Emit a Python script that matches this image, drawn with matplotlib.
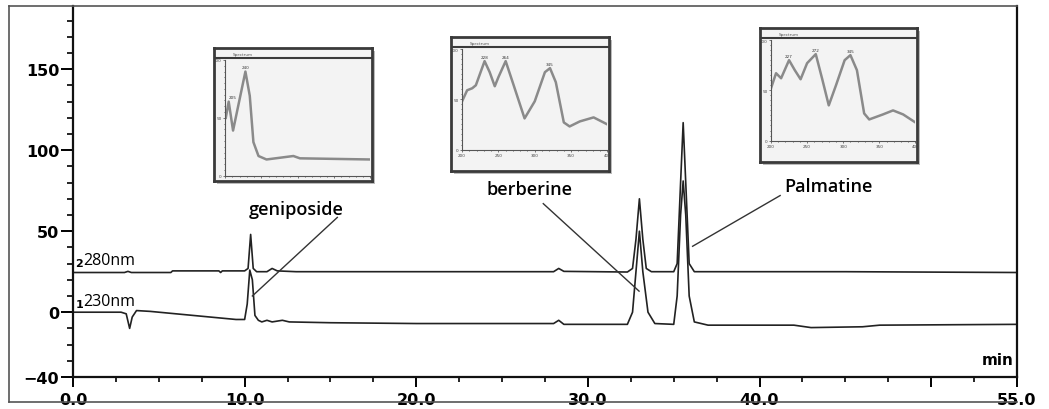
import matplotlib
matplotlib.use('Agg')
import matplotlib.pyplot as plt
from matplotlib.lines import Line2D
from matplotlib.ticker import MultipleLocator, FixedLocator

# chromatogram traces (time in min, signal)
t_280 = [0, 3.0, 3.2, 3.4, 5.7, 5.8, 8.5, 8.6, 8.7, 10.0, 10.2, 10.35, 10.5, 10.7,
         11.3, 11.6, 11.9, 13, 20, 28.0, 28.3, 28.6, 32.3, 32.6, 32.8, 33.0, 33.2,
         33.4, 33.7, 35.0, 35.2, 35.4, 35.55, 35.7, 35.9, 36.2, 45, 55]
v_280 = [24.5, 24.5, 25.2, 24.5, 24.5, 25.5, 25.5, 24.5, 25.5, 25.5, 27, 48, 27, 25,
         25, 27, 25.5, 25, 25, 25, 27, 25.2, 24.8, 27, 45, 70, 45,
         27, 25, 25, 30, 80, 117, 80, 30, 25, 25, 24.5]

t_230 = [0, 2.8, 3.1, 3.3, 3.45, 3.7, 4.5, 6, 8, 9.5, 10.0, 10.15, 10.3, 10.45, 10.6,
         10.8, 11.0, 11.3, 11.6, 12.2, 12.6, 15, 20, 25, 28.0, 28.3, 28.6, 31, 32.3,
         32.6, 32.8, 33.0, 33.2, 33.5, 33.9, 35.0, 35.2, 35.4, 35.55, 35.7, 35.9, 36.2,
         37, 42, 43, 46, 47, 55]
v_230 = [0, 0, -1, -10, -3, 1, 0.5, -1, -3, -4.5, -4.5, 5, 26, 20, -2,
         -5, -6, -5, -6, -5, -6, -6.5, -7, -7, -7, -5, -7.5, -7.5, -7.5,
         0, 25, 50, 25, 0, -7, -7.5, 10, 60, 81, 60, 10, -6,
         -8, -8, -9.5, -9, -8, -7.5]

# UV spectra in the insets (wavelength nm, relative absorbance)
wl_genip = [201, 205, 211, 228, 234, 239, 246, 257, 294, 303, 400]
ab_genip = [0.50, 0.64, 0.39, 0.90, 0.69, 0.29, 0.17, 0.14, 0.17, 0.15, 0.14]

wl_berb = [200, 207, 214, 219, 231, 238, 245, 250, 260, 271, 286, 300, 314, 321,
           329, 340, 348, 362, 381, 400]
ab_berb = [0.48, 0.59, 0.61, 0.64, 0.88, 0.77, 0.63, 0.72, 0.88, 0.64, 0.31, 0.48,
           0.77, 0.81, 0.67, 0.27, 0.23, 0.28, 0.32, 0.25]

wl_palm = [200, 207, 214, 225, 233, 241, 250, 262, 271, 280, 290, 302, 310, 319,
           329, 336, 355, 369, 383, 400]
ab_palm = [0.52, 0.67, 0.62, 0.80, 0.70, 0.61, 0.77, 0.86, 0.61, 0.35, 0.55, 0.80,
           0.85, 0.70, 0.27, 0.21, 0.26, 0.30, 0.26, 0.18]

x_major = [0, 10, 20, 30, 40, 50, 55]
x_labels = ['0.0', '10.0', '20.0', '30.0', '40.0', '', '55.0']
y_major = [-40, 0, 50, 100, 150]

fig = plt.figure(figsize=(10.49, 4.10), dpi=100)
W, H = 1049, 410


def fx(px):
    return px / W


def fy(py):
    return 1 - py / H


# outer frame of the picture
for xs, ys in [([9, 9], [7, 403]), ([9, 1017], [7, 7]), ([9, 1017], [403, 403])]:
    fig.add_artist(Line2D([fx(x) for x in xs], [fy(y) for y in ys], color='#555555', lw=1.2))

ax = fig.add_axes([fx(73), fy(378), fx(1017) - fx(73), fy(7) - fy(378)])
ax.plot(t_280, v_280, color='#222222', lw=1.2)
ax.plot(t_230, v_230, color='#222222', lw=1.2)
ax.set_xlim(0, 55)
ax.set_ylim(-40, 189)
ax.spines['top'].set_visible(False)
for s in ['left', 'bottom', 'right']:
    ax.spines[s].set_linewidth(1.6)
    ax.spines[s].set_color('#111111')
ax.xaxis.set_major_locator(FixedLocator(x_major))
ax.set_xticklabels(x_labels)
ax.xaxis.set_minor_locator(MultipleLocator(2.5))
ax.yaxis.set_major_locator(FixedLocator(y_major))
ax.yaxis.set_minor_locator(MultipleLocator(10))
ax.tick_params(axis='x', which='major', length=7, width=1.4, pad=4)
ax.tick_params(axis='x', which='minor', length=3.5, width=1.2)
ax.tick_params(axis='y', which='major', length=9, width=1.4, pad=1)
ax.tick_params(axis='y', which='minor', length=4, width=1.2)
for lab in ax.get_xticklabels() + ax.get_yticklabels():
    lab.set_fontweight('heavy')
    lab.set_fontsize(11.5)
    lab.set_family('DejaVu Sans')

ax.text(54.8, -34, 'min', ha='right', va='bottom', fontsize=11, fontweight='heavy')
ax.text(0.15, 27, '2', fontsize=8, fontweight='bold', va='bottom')
ax.text(0.6, 27, '280nm', fontsize=11.5, va='bottom', family='Open Sans')
ax.text(0.15, 2, '1', fontsize=8, fontweight='bold', va='bottom')
ax.text(0.6, 2, '230nm', fontsize=11.5, va='bottom', family='Open Sans')

# peak names with leader lines
lab_kw = dict(fontsize=13, family='Open Sans', fontweight='semibold', ha='center', va='center')
ax.text(13.0, 64, 'geniposide', **lab_kw)
ax.plot([15.4, 10.45], [58.5, 10], color='#333333', lw=1)
ax.text(26.6, 76, 'berberine', **lab_kw)
ax.plot([27.4, 32.98], [67, 13], color='#333333', lw=1)
ax.text(44.0, 78, 'Palmatine', **lab_kw)
ax.plot([41.2, 36.1], [72, 40.7], color='#333333', lw=1)


def inset(box, wl, ab, bottom_frac, peaks):
    x0, y0, x1, y1 = box
    # shadow
    sh = fig.add_axes([fx(x0 + 3), fy(y1 + 3), fx(x1 - x0), fy(y0) - fy(y1)])
    sh.set_facecolor('#bbbbbb')
    sh.set_xticks([])
    sh.set_yticks([])
    for s in sh.spines.values():
        s.set_visible(False)
    fr = fig.add_axes([fx(x0), fy(y1), fx(x1 - x0), fy(y0) - fy(y1)])
    fr.set_facecolor('#f3f3f3')
    fr.set_xticks([])
    fr.set_yticks([])
    for s in fr.spines.values():
        s.set_linewidth(2)
        s.set_color('#3a3a3a')
    fr.axhline(0.925, color='#3a3a3a', lw=1.5)
    fr.text(0.12, 0.955, 'Spectrum', fontsize=3, color='#555555', va='center')
    h = y1 - y0
    w = x1 - x0
    ia = fig.add_axes([fx(x0 + 0.07 * w), fy(y1 - bottom_frac * h),
                       fx(0.92 * w), fy(y0 + 0.09 * h) - fy(y1 - bottom_frac * h)])
    ia.patch.set_alpha(0)
    ia.plot(wl, ab, color='#8a8a8a', lw=1.8)
    ia.set_xlim(200, 400)
    ia.set_ylim(0, 1)
    for s in ['top', 'right']:
        ia.spines[s].set_visible(False)
    for s in ['left', 'bottom']:
        ia.spines[s].set_color('#555555')
        ia.spines[s].set_linewidth(0.8)
    ia.yaxis.set_minor_locator(MultipleLocator(0.05))
    ia.set_yticks([0, 0.5, 1.0])
    ia.set_yticklabels(['0', '50', '100'])
    ia.set_xticks([200, 250, 300, 350, 400])
    ia.xaxis.set_minor_locator(MultipleLocator(10))
    ia.tick_params(labelsize=3, length=1.5, width=0.5, pad=1, colors='#444444')
    ia.tick_params(which='minor', length=1, width=0.4)
    if bottom_frac < 0.08:
        ia.set_xticklabels([])
    for px, py, txt in peaks:
        ia.text(px, py + 0.02, txt, fontsize=3, ha='center', va='bottom', color='#333333')


inset((214, 49, 372, 182), wl_genip, ab_genip, 0.04, [(228, 0.90, '240'), (211, 0.64, '205')])
inset((451, 38, 609, 172), wl_berb, ab_berb, 0.16, [(231, 0.88, '228'), (260, 0.88, '264'), (321, 0.81, '345')])
inset((760, 29, 917, 163), wl_palm, ab_palm, 0.16, [(225, 0.80, '227'), (262, 0.86, '272'), (310, 0.85, '345')])

fig.savefig('out.png', dpi=100)
